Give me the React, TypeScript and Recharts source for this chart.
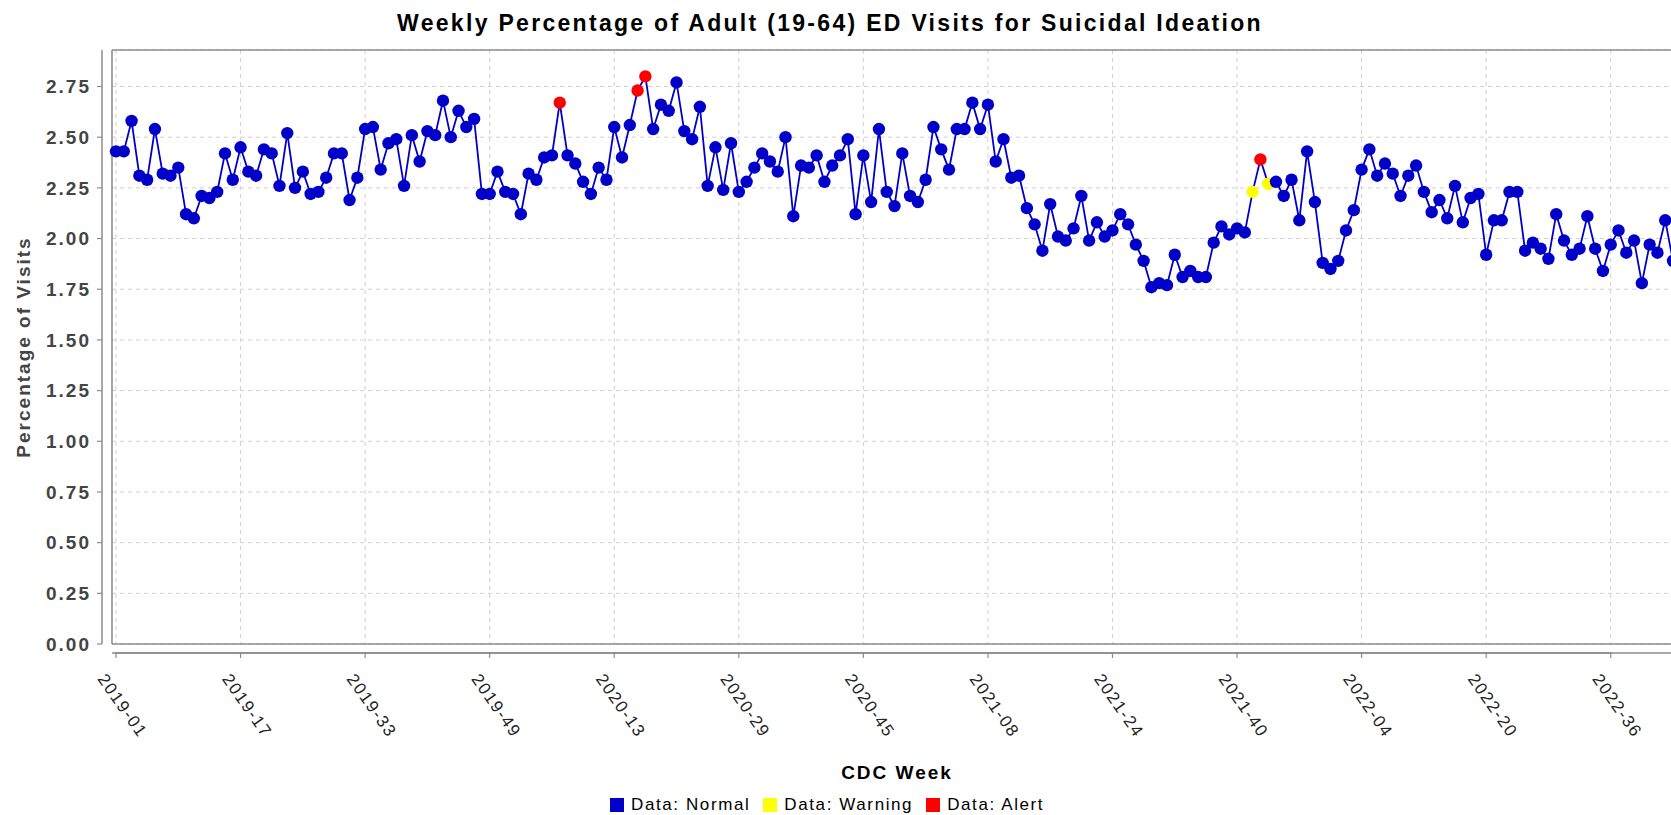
import React from 'react';
import { LineChart, Line, XAxis, YAxis, CartesianGrid } from 'recharts';

// ---- data ----
const pctVisits: number[] = [
  2.43, 2.43, 2.58, 2.31, 2.29, 2.54, 2.32, 2.31, 2.35, 2.12,
  2.10, 2.21, 2.20, 2.23, 2.42, 2.29, 2.45, 2.33, 2.31, 2.44,
  2.42, 2.26, 2.52, 2.25, 2.33, 2.22, 2.23, 2.30, 2.42, 2.42,
  2.19, 2.30, 2.54, 2.55, 2.34, 2.47, 2.49, 2.26, 2.51, 2.38,
  2.53, 2.51, 2.68, 2.50, 2.63, 2.55, 2.59, 2.22, 2.22, 2.33,
  2.23, 2.22, 2.12, 2.32, 2.29, 2.40, 2.41, 2.67, 2.41, 2.37,
  2.28, 2.22, 2.35, 2.29, 2.55, 2.40, 2.56, 2.73, 2.80, 2.54,
  2.66, 2.63, 2.77, 2.53, 2.49, 2.65, 2.26, 2.45, 2.24, 2.47,
  2.23, 2.28, 2.35, 2.42, 2.38, 2.33, 2.50, 2.11, 2.36, 2.35,
  2.41, 2.28, 2.36, 2.41, 2.49, 2.12, 2.41, 2.18, 2.54, 2.23,
  2.16, 2.42, 2.21, 2.18, 2.29, 2.55, 2.44, 2.34, 2.54, 2.54,
  2.67, 2.54, 2.66, 2.38, 2.49, 2.30, 2.31, 2.15, 2.07, 1.94,
  2.17, 2.01, 1.99, 2.05, 2.21, 1.99, 2.08, 2.01, 2.04, 2.12,
  2.07, 1.97, 1.89, 1.76, 1.78, 1.77, 1.92, 1.81, 1.84, 1.81,
  1.81, 1.98, 2.06, 2.02, 2.05, 2.03, 2.23, 2.39, 2.27, 2.28,
  2.21, 2.29, 2.09, 2.43, 2.18, 1.88, 1.85, 1.89, 2.04, 2.14,
  2.34, 2.44, 2.31, 2.37, 2.32, 2.21, 2.31, 2.36, 2.23, 2.13,
  2.19, 2.10, 2.26, 2.08, 2.20, 2.22, 1.92, 2.09, 2.09, 2.23,
  2.23, 1.94, 1.98, 1.95, 1.90, 2.12, 1.99, 1.92, 1.95, 2.11,
  1.95, 1.84, 1.97, 2.04, 1.93, 1.99, 1.78, 1.97, 1.93, 2.09,
  1.89,
];

// CDC (MMWR) years and how many weeks each has
const cdcYears: number[] = [2019, 2020, 2021, 2022];
const weeksInYear: number[] = [52, 53, 52, 52];

const xTickLabels: string[] = [
  '2019-01', '2019-17', '2019-33', '2019-49', '2020-13', '2020-29', '2020-45',
  '2021-08', '2021-24', '2021-40', '2022-04', '2022-20', '2022-36',
];
const yTicks: number[] = [0, 0.25, 0.5, 0.75, 1.0, 1.25, 1.5, 1.75, 2.0, 2.25, 2.5, 2.75];
const yDomainMax = 2.93;

const warningWeeks: string[] = ['2021-42', '2021-44'];
const alertWeeks: string[] = ['2020-06', '2020-16', '2020-17', '2021-43'];

const BLUE = '#0000c8';
const YELLOW = '#ffff00';
const RED = '#ff0000';
const legendItems = [
  { label: 'Data: Normal', color: BLUE },
  { label: 'Data: Warning', color: YELLOW },
  { label: 'Data: Alert', color: RED },
];

// week category labels
const weekLabels: string[] = [];
cdcYears.forEach((yr, k) => {
  for (let w = 1; w <= weeksInYear[k]; w++) {
    weekLabels.push(`${yr}-${w < 10 ? '0' + w : w}`);
  }
});
const chartData = pctVisits.map((v, i) => ({ week: weekLabels[i], value: v }));

// ---- layout ----
const FONT = '"Liberation Sans", Arial, Helvetica, sans-serif';
const CHART_W = 1700;
const CHART_H = 815;
const PLOT_LEFT = 112;
const PLOT_TOP = 50;
const PLOT_BOTTOM = 644;
const AXIS_GRAY = '#8c8c8c';
const X_AXIS_LINE_Y = 653;
const Y_AXIS_LINE_X = 102;

const XTick = (props: any) => {
  const { x, payload } = props;
  const bx = x - 19;
  const by = 679;
  return (
    <g>
      <line x1={Math.max(PLOT_LEFT, x - 126)} x2={x + 126} y1={X_AXIS_LINE_Y} y2={X_AXIS_LINE_Y} stroke={AXIS_GRAY} strokeWidth={1.5} />
      <line x1={x} x2={x} y1={X_AXIS_LINE_Y} y2={X_AXIS_LINE_Y + 5} stroke={AXIS_GRAY} strokeWidth={1.2} />
      <text
        x={bx}
        y={by}
        transform={`rotate(55 ${bx} ${by})`}
        textAnchor="start"
        fontFamily={FONT}
        fontSize={17}
        letterSpacing={1.5}
        fill="#222"
      >
        {payload.value}
      </text>
    </g>
  );
};

const YTick = (props: any) => {
  const { y, payload } = props;
  const isTop = payload.value === yTicks[yTicks.length - 1];
  const topY = isTop ? PLOT_TOP : y - 51;
  return (
    <g>
      {isTop && (
        <line x1={PLOT_LEFT} x2={CHART_W} y1={PLOT_TOP} y2={PLOT_TOP} stroke={AXIS_GRAY} strokeWidth={1.5} />
      )}
      <line x1={Y_AXIS_LINE_X} x2={Y_AXIS_LINE_X} y1={y} y2={topY} stroke={AXIS_GRAY} strokeWidth={1.5} />
      <line x1={Y_AXIS_LINE_X - 5} x2={Y_AXIS_LINE_X} y1={y} y2={y} stroke={AXIS_GRAY} strokeWidth={1.2} />
      <text
        x={91}
        y={y}
        dy="0.36em"
        textAnchor="end"
        fontFamily={FONT}
        fontSize={19}
        fontWeight="bold"
        letterSpacing={2}
        fill="#444"
      >
        {Number(payload.value).toFixed(2)}
      </text>
    </g>
  );
};

const renderDot = (props: any) => {
  const { cx, cy, index, payload } = props;
  const fill = alertWeeks.includes(payload.week)
    ? RED
    : warningWeeks.includes(payload.week)
    ? YELLOW
    : BLUE;
  return <circle key={`dot-${index}`} cx={cx} cy={cy} r={6.2} fill={fill} stroke="none" />;
};

export default function App() {
  return (
    <div
      style={{
        position: 'absolute',
        left: 0,
        top: 0,
        width: 1671,
        height: 815,
        overflow: 'hidden',
        background: '#fff',
        fontFamily: FONT,
      }}
    >
      <LineChart
        width={CHART_W}
        height={CHART_H}
        data={chartData}
        margin={{ top: PLOT_TOP, right: 17, bottom: 0, left: 0 }}
      >
        <CartesianGrid stroke="#d0d0d0" strokeDasharray="4 4" strokeWidth={1} />
        <XAxis
          dataKey="week"
          ticks={xTickLabels}
          interval={0}
          height={CHART_H - PLOT_BOTTOM}
          padding={{ left: 4, right: 10 }}
          axisLine={{ stroke: AXIS_GRAY, strokeWidth: 1.5 }}
          tickLine={false}
          tick={(p: any) => <XTick {...p} />}
        />
        <YAxis
          type="number"
          domain={[0, yDomainMax]}
          ticks={yTicks}
          interval={0}
          width={PLOT_LEFT}
          axisLine={{ stroke: AXIS_GRAY, strokeWidth: 1.5 }}
          tickLine={false}
          tick={(p: any) => <YTick {...p} />}
        />
        <Line
          type="linear"
          dataKey="value"
          stroke={BLUE}
          strokeWidth={1.8}
          dot={renderDot}
          activeDot={false}
          isAnimationActive={false}
        />
      </LineChart>

      {/* title */}
      <div
        style={{
          position: 'absolute',
          left: 0,
          width: 1660,
          top: 12,
          textAlign: 'center',
          fontSize: 23,
          lineHeight: '23px',
          fontWeight: 'bold',
          letterSpacing: 2.3,
          color: '#000',
          whiteSpace: 'nowrap',
        }}
      >
        Weekly Percentage of Adult (19-64) ED Visits for Suicidal Ideation
      </div>

      {/* y axis label */}
      <div
        style={{
          position: 'absolute',
          left: 22.5,
          top: 347,
          transform: 'translate(-50%, -50%) rotate(-90deg)',
          fontSize: 19,
          lineHeight: '19px',
          fontWeight: 'bold',
          letterSpacing: 2,
          color: '#444',
          whiteSpace: 'nowrap',
        }}
      >
        Percentage of Visits
      </div>

      {/* x axis label */}
      <div
        style={{
          position: 'absolute',
          left: 897,
          top: 763,
          transform: 'translateX(-50%)',
          fontSize: 19,
          lineHeight: '19px',
          fontWeight: 'bold',
          letterSpacing: 2,
          color: '#000',
          whiteSpace: 'nowrap',
        }}
      >
        CDC Week
      </div>

      {/* legend */}
      <div
        style={{
          position: 'absolute',
          left: 610,
          top: 798,
          height: 14,
          display: 'flex',
          alignItems: 'center',
          fontSize: 17,
          lineHeight: '14px',
          letterSpacing: 1.6,
          color: '#000',
          whiteSpace: 'nowrap',
        }}
      >
        {legendItems.map((it) => (
          <div key={it.label} style={{ display: 'flex', alignItems: 'center', marginRight: 13 }}>
            <div style={{ width: 14, height: 14, background: it.color, marginRight: 7 }} />
            <span>{it.label}</span>
          </div>
        ))}
      </div>
    </div>
  );
}
